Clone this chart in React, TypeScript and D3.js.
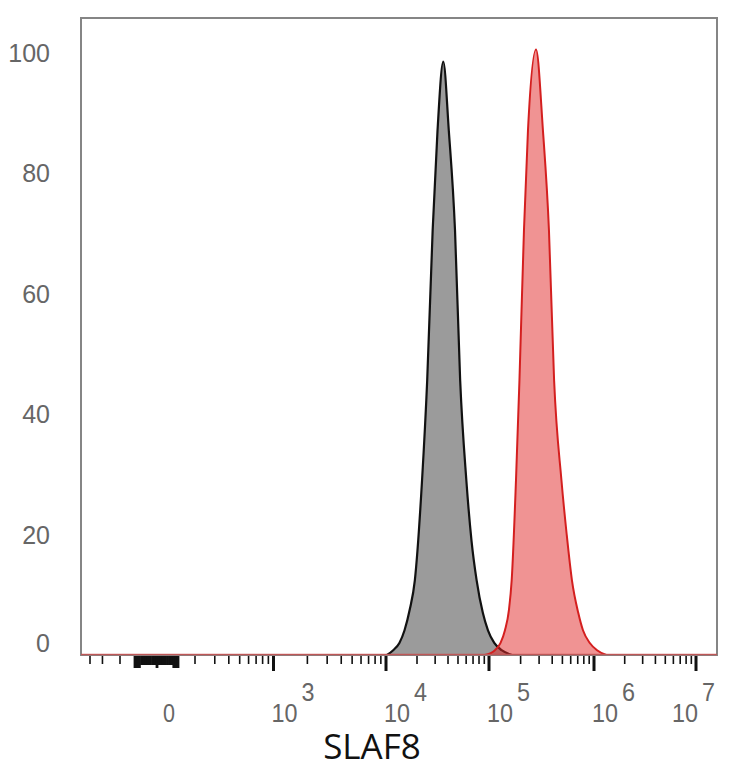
import React from 'react';
import * as d3 from 'd3';

// ---------- data ----------
const yTickValues = [0, 20, 40, 60, 80, 100];
const decadeExponents = [3, 4, 5, 6, 7];
const minorDecades = [2, 3, 4, 5, 6];
const minorMultipliers = [2, 3, 4, 5, 6, 7, 8, 9];
const negativeTicks = [-200, -300, -400];
const linearTicks = d3.range(-100, 101, 10);
const axisTitle = 'SLAF8';

// isotype control (gray): log10 intensity, % of max
const grayLogX = [4.01, 4.07, 4.13, 4.18, 4.23, 4.28, 4.35, 4.40, 4.453, 4.50, 4.556, 4.61, 4.67, 4.72, 4.78, 4.83, 4.88, 4.94, 4.99, 5.05, 5.12, 5.22];
const grayCount = [0, 0.8, 2, 4.1, 7.5, 12.4, 29, 45.6, 70.5, 87, 98.5, 87, 70.5, 45.6, 29, 19, 12.4, 7, 4.1, 2, 0.8, 0];

// SLAF8 stained (red)
const redLogX = [4.96, 5.057, 5.11, 5.152, 5.19, 5.216, 5.257, 5.29, 5.333, 5.371, 5.448, 5.514, 5.571, 5.62, 5.69, 5.74, 5.79, 5.85, 5.895, 5.96, 6.03, 6.12];
const redCount = [0, 0.8, 2, 4.1, 7.5, 12.4, 29, 45.6, 70.5, 87, 100.5, 87, 70.5, 45.6, 29, 20, 12.4, 7, 4.1, 2, 0.8, 0];

// axis calibration values (display transform anchors)
const xCalibValues = [-400, -200, -100, 0, 100, 200, 1e3, 1e4, 1e5, 1e6, 1e7];

// ---------- layout ----------
const W = 734;
const H = 768;
const plotLeft = 81;
const plotRight = 717;
const plotTop = 18;
const plotBottom = 655;
const xCalibPx = [90, 120, 135, 157, 178, 195, 273.5, 386, 489, 594, 696];

// logicle-like display transform
const u = (v: number) =>
  Math.abs(v) <= 100 ? v / 100 : Math.sign(v) * (1 + Math.log10(Math.abs(v) / 100));

const xs = d3.scaleLinear().domain(xCalibValues.map(u)).range(xCalibPx);
const ys = d3.scaleLinear().domain([0, 100]).range([plotBottom, 52.5]);

const xOf = (logx: number) => xs(u(Math.pow(10, logx)));

const area = d3
  .area<[number, number]>()
  .x((d) => xOf(d[0]))
  .y0(ys(0))
  .y1((d) => ys(d[1]))
  .curve(d3.curveMonotoneX);
const line = d3
  .line<[number, number]>()
  .x((d) => xOf(d[0]))
  .y((d) => ys(d[1]))
  .curve(d3.curveMonotoneX);

const grayData: [number, number][] = grayLogX.map((x, i) => [x, grayCount[i]]);
const redData: [number, number][] = redLogX.map((x, i) => [x, redCount[i]]);

const labelFont = "'Liberation Sans', Arial, sans-serif";
const labelColor = '#666666';

export default function App() {
  const majorTicks = decadeExponents.map((e) => Math.pow(10, e));
  const minorTicks: number[] = [];
  minorDecades.forEach((k) => minorMultipliers.forEach((m) => minorTicks.push(m * Math.pow(10, k))));

  return (
    <svg
      width={W}
      height={H}
      style={{ position: 'absolute', left: 0, top: 0, display: 'block', background: '#fff' }}
    >
      {/* histograms */}
      <path d={area(grayData) || ''} fill="#9b9b9b" />
      <path d={line(grayData) || ''} fill="none" stroke="#111" strokeWidth={2.2} />
      <path d={area(redData) || ''} fill="rgba(226,40,40,0.5)" />
      <path d={line(redData) || ''} fill="none" stroke="#d41f1f" strokeWidth={2} />

      {/* frame */}
      <rect
        x={plotLeft}
        y={plotTop}
        width={plotRight - plotLeft}
        height={plotBottom - plotTop}
        fill="none"
        stroke="#858585"
        strokeWidth={2}
      />
      <line
        x1={plotLeft}
        x2={plotRight}
        y1={ys(0) - 0.5}
        y2={ys(0) - 0.5}
        stroke="#c85050"
        strokeWidth={1.6}
        opacity={0.85}
      />

      {/* x ticks */}
      <g stroke="#111">
        {minorTicks.map((v) => (
          <line key={'mi' + v} x1={xs(u(v))} x2={xs(u(v))} y1={plotBottom + 1} y2={plotBottom + 9} strokeWidth={1.6} />
        ))}
        {negativeTicks.map((v) => (
          <line key={'ng' + v} x1={xs(u(v))} x2={xs(u(v))} y1={plotBottom + 1} y2={plotBottom + 9} strokeWidth={1.6} />
        ))}
        {linearTicks.map((v) => {
          const long = v === 0 || Math.abs(v) >= 80;
          return (
            <line
              key={'ln' + v}
              x1={xs(u(v))}
              x2={xs(u(v))}
              y1={plotBottom + 1}
              y2={plotBottom + (long ? 13 : 10)}
              strokeWidth={2.8}
            />
          );
        })}
        {majorTicks.map((v) => (
          <line key={'ma' + v} x1={xs(u(v))} x2={xs(u(v))} y1={plotBottom + 1} y2={plotBottom + 16} strokeWidth={3} />
        ))}
      </g>

      {/* x labels */}
      <g fill={labelColor} fontFamily={labelFont} fontSize={26}>
        <text x={xs(u(0)) + 6} y={722} textLength={12} lengthAdjust="spacingAndGlyphs">
          0
        </text>
        {decadeExponents.map((e) => {
          const t = xs(u(Math.pow(10, e)));
          const shift = t + 46 > W ? -24 : -2;
          return (
            <g key={'xl' + e}>
              <text x={t + shift} y={722} textLength={26} lengthAdjust="spacingAndGlyphs">
                10
              </text>
              <text x={t + shift + 30} y={701} textLength={13} lengthAdjust="spacingAndGlyphs">
                {String(e)}
              </text>
            </g>
          );
        })}
      </g>

      {/* y labels */}
      <g fill={labelColor} fontFamily={labelFont} fontSize={25} textAnchor="end">
        {yTickValues.map((v) => (
          <text key={'yl' + v} x={50} y={ys(v) + (v === 0 ? -12 : 0)} dominantBaseline="central">
            {String(v)}
          </text>
        ))}
      </g>

      {/* axis title */}
      <text
        x={372}
        y={759}
        textAnchor="middle"
        fontFamily="'Open Sans', 'Noto Sans', sans-serif"
        fontSize={35}
        fill="#111"
      >
        {axisTitle}
      </text>
    </svg>
  );
}
